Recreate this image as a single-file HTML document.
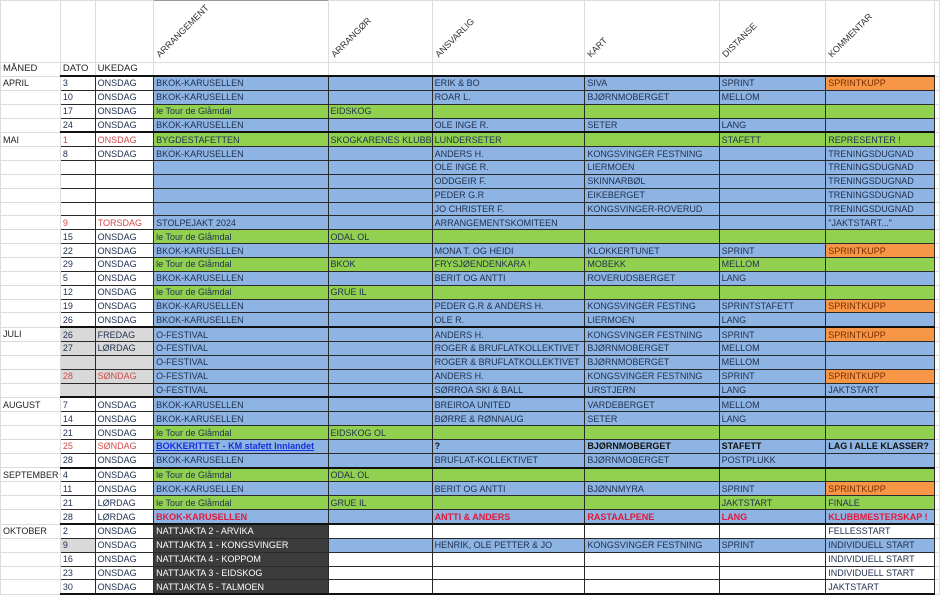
<!DOCTYPE html>
<html><head><meta charset="utf-8">
<style>
html,body{margin:0;padding:0;background:#fff;width:940px;height:598px;overflow:hidden}
table{border-collapse:collapse;table-layout:fixed;font-family:"Liberation Sans",Arial,sans-serif;font-size:9px;color:#1f2f4f;position:absolute;left:0;top:0}
td{border:1px solid #dcdcdc;padding:0 0 0 2px;height:12.85px;line-height:12px;white-space:nowrap;overflow:hidden;vertical-align:middle}
tr.h td{height:61px;vertical-align:bottom;position:relative;overflow:visible}
tr.l td{height:12px;font-size:9.5px;color:#222}
tr.d td:nth-child(n+2):nth-child(-n+9){border:1px solid #2a2a2a}
tr.d td:nth-child(2){border-left:2px solid #111}
tr.d td:nth-child(9){border-right:2px solid #111}
tr.t td:nth-child(n+2):nth-child(-n+9){border-top:2px solid #111}
tr.last td:nth-child(n+2):nth-child(-n+9){border-bottom:2px solid #111}
td.a{color:#222}
.b{background:#8db4e2}
.g{background:#92d050}
.o{background:#f79646;color:#7a2e00}
.k{background:#3c3c3c;color:#fff}
.gr{background:#d9d9d9}
.rd{color:#d24a4a}
.rb{color:#e0183a;font-weight:bold}
.bl{color:#1530e0;font-weight:bold;text-decoration:underline}
.bo{font-weight:bold;color:#111}
.rot{position:absolute;left:8px;bottom:2px;transform:rotate(-45deg);transform-origin:left bottom;font-size:9px;color:#333;white-space:nowrap}
</style></head><body>
<table>
<colgroup><col style="width:60px"><col style="width:35px"><col style="width:59px"><col style="width:175px"><col style="width:101px"><col style="width:153px"><col style="width:135px"><col style="width:108px"><col style="width:109px"><col style="width:5px"></colgroup>
<tr class="h"><td></td><td></td><td></td><td style="border-top:1px solid #999"><span class="rot">ARRANGEMENT</span></td><td><span class="rot">ARRANGØR</span></td><td><span class="rot">ANSVARLIG</span></td><td><span class="rot">KART</span></td><td><span class="rot">DISTANSE</span></td><td><span class="rot">KOMMENTAR</span></td><td></td></tr>
<tr class="l"><td>MÅNED</td><td>DATO</td><td>UKEDAG</td><td></td><td></td><td></td><td></td><td></td><td></td><td></td></tr>
<tr class="d t"><td class="a">APRIL</td><td>3</td><td>ONSDAG</td><td class="b">BKOK-KARUSELLEN</td><td class="b"></td><td class="b">ERIK &amp; BO</td><td class="b">SIVA</td><td class="b">SPRINT</td><td class="o">SPRINTKUPP</td><td></td></tr>
<tr class="d"><td></td><td>10</td><td>ONSDAG</td><td class="b">BKOK-KARUSELLEN</td><td class="b"></td><td class="b">ROAR L.</td><td class="b">BJØRNMOBERGET</td><td class="b">MELLOM</td><td class="b"></td><td></td></tr>
<tr class="d"><td></td><td>17</td><td>ONSDAG</td><td class="g">le Tour de Glåmdal</td><td class="g">EIDSKOG</td><td class="g"></td><td class="g"></td><td class="g"></td><td class="g"></td><td></td></tr>
<tr class="d"><td></td><td>24</td><td>ONSDAG</td><td class="b">BKOK-KARUSELLEN</td><td class="b"></td><td class="b">OLE INGE R.</td><td class="b">SETER</td><td class="b">LANG</td><td class="b"></td><td></td></tr>
<tr class="d t"><td class="a">MAI</td><td class="rd">1</td><td class="rd">ONSDAG</td><td class="g">BYGDESTAFETTEN</td><td class="g">SKOGKARENES KLUBB</td><td class="g">LUNDERSETER</td><td class="g"></td><td class="g">STAFETT</td><td class="g">REPRESENTER !</td><td></td></tr>
<tr class="d"><td></td><td>8</td><td>ONSDAG</td><td class="b">BKOK-KARUSELLEN</td><td class="b"></td><td class="b">ANDERS H.</td><td class="b">KONGSVINGER FESTNING</td><td class="b"></td><td class="b">TRENINGSDUGNAD</td><td></td></tr>
<tr class="d"><td></td><td></td><td></td><td class="b"></td><td class="b"></td><td class="b">OLE INGE R.</td><td class="b">LIERMOEN</td><td class="b"></td><td class="b">TRENINGSDUGNAD</td><td></td></tr>
<tr class="d"><td></td><td></td><td></td><td class="b"></td><td class="b"></td><td class="b">ODDGEIR F.</td><td class="b">SKINNARBØL</td><td class="b"></td><td class="b">TRENINGSDUGNAD</td><td></td></tr>
<tr class="d"><td></td><td></td><td></td><td class="b"></td><td class="b"></td><td class="b">PEDER G.R</td><td class="b">EIKEBERGET</td><td class="b"></td><td class="b">TRENINGSDUGNAD</td><td></td></tr>
<tr class="d"><td></td><td></td><td></td><td class="b"></td><td class="b"></td><td class="b">JO CHRISTER F.</td><td class="b">KONGSVINGER-ROVERUD</td><td class="b"></td><td class="b">TRENINGSDUGNAD</td><td></td></tr>
<tr class="d"><td></td><td class="rd">9</td><td class="rd">TORSDAG</td><td class="b">STOLPEJAKT 2024</td><td class="b"></td><td class="b">ARRANGEMENTSKOMITEEN</td><td class="b"></td><td class="b"></td><td class="b">"JAKTSTART..."</td><td></td></tr>
<tr class="d"><td></td><td>15</td><td>ONSDAG</td><td class="g">le Tour de Glåmdal</td><td class="g">ODAL OL</td><td class="g"></td><td class="g"></td><td class="g"></td><td class="g"></td><td></td></tr>
<tr class="d"><td></td><td>22</td><td>ONSDAG</td><td class="b">BKOK-KARUSELLEN</td><td class="b"></td><td class="b">MONA T. OG HEIDI</td><td class="b">KLOKKERTUNET</td><td class="b">SPRINT</td><td class="o">SPRINTKUPP</td><td></td></tr>
<tr class="d"><td></td><td>29</td><td>ONSDAG</td><td class="g">le Tour de Glåmdal</td><td class="g">BKOK</td><td class="g">FRYSJØENDENKARA !</td><td class="g">MOBEKK</td><td class="g">MELLOM</td><td class="g"></td><td></td></tr>
<tr class="d"><td></td><td>5</td><td>ONSDAG</td><td class="b">BKOK-KARUSELLEN</td><td class="b"></td><td class="b">BERIT OG ANTTI</td><td class="b">ROVERUDSBERGET</td><td class="b">LANG</td><td class="b"></td><td></td></tr>
<tr class="d"><td></td><td>12</td><td>ONSDAG</td><td class="g">le Tour de Glåmdal</td><td class="g">GRUE IL</td><td class="g"></td><td class="g"></td><td class="g"></td><td class="g"></td><td></td></tr>
<tr class="d"><td></td><td>19</td><td>ONSDAG</td><td class="b">BKOK-KARUSELLEN</td><td class="b"></td><td class="b">PEDER G.R &amp; ANDERS H.</td><td class="b">KONGSVINGER FESTING</td><td class="b">SPRINTSTAFETT</td><td class="o">SPRINTKUPP</td><td></td></tr>
<tr class="d"><td></td><td>26</td><td>ONSDAG</td><td class="b">BKOK-KARUSELLEN</td><td class="b"></td><td class="b">OLE R.</td><td class="b">LIERMOEN</td><td class="b">LANG</td><td class="b"></td><td></td></tr>
<tr class="d t"><td class="a">JULI</td><td class="gr">26</td><td class="gr">FREDAG</td><td class="b">O-FESTIVAL</td><td class="b"></td><td class="b">ANDERS H.</td><td class="b">KONGSVINGER FESTNING</td><td class="b">SPRINT</td><td class="o">SPRINTKUPP</td><td></td></tr>
<tr class="d"><td></td><td class="gr">27</td><td class="gr">LØRDAG</td><td class="b">O-FESTIVAL</td><td class="b"></td><td class="b">ROGER &amp; BRUFLATKOLLEKTIVET</td><td class="b">BJØRNMOBERGET</td><td class="b">MELLOM</td><td class="b"></td><td></td></tr>
<tr class="d"><td></td><td class="gr"></td><td class="gr"></td><td class="b">O-FESTIVAL</td><td class="b"></td><td class="b">ROGER &amp; BRUFLATKOLLEKTIVET</td><td class="b">BJØRNMOBERGET</td><td class="b">MELLOM</td><td class="b"></td><td></td></tr>
<tr class="d"><td></td><td class="gr rd">28</td><td class="gr rd">SØNDAG</td><td class="b">O-FESTIVAL</td><td class="b"></td><td class="b">ANDERS H.</td><td class="b">KONGSVINGER FESTNING</td><td class="b">SPRINT</td><td class="o">SPRINTKUPP</td><td></td></tr>
<tr class="d"><td></td><td class="gr"></td><td class="gr"></td><td class="b">O-FESTIVAL</td><td class="b"></td><td class="b">SØRROA SKI &amp; BALL</td><td class="b">URSTJERN</td><td class="b">LANG</td><td class="b">JAKTSTART</td><td></td></tr>
<tr class="d t"><td class="a">AUGUST</td><td>7</td><td>ONSDAG</td><td class="b">BKOK-KARUSELLEN</td><td class="b"></td><td class="b">BREIROA UNITED</td><td class="b">VARDEBERGET</td><td class="b">MELLOM</td><td class="b"></td><td></td></tr>
<tr class="d"><td></td><td>14</td><td>ONSDAG</td><td class="b">BKOK-KARUSELLEN</td><td class="b"></td><td class="b">BØRRE &amp; RØNNAUG</td><td class="b">SETER</td><td class="b">LANG</td><td class="b"></td><td></td></tr>
<tr class="d"><td></td><td>21</td><td>ONSDAG</td><td class="g">le Tour de Glåmdal</td><td class="g">EIDSKOG OL</td><td class="g"></td><td class="g"></td><td class="g"></td><td class="g"></td><td></td></tr>
<tr class="d"><td></td><td class="rd">25</td><td class="rd">SØNDAG</td><td class="b bl">BOKKERITTET - KM stafett Innlandet</td><td class="b"></td><td class="b bo">?</td><td class="b bo">BJØRNMOBERGET</td><td class="b bo">STAFETT</td><td class="b bo">LAG I ALLE KLASSER?</td><td></td></tr>
<tr class="d"><td></td><td>28</td><td>ONSDAG</td><td class="b">BKOK-KARUSELLEN</td><td class="b"></td><td class="b">BRUFLAT-KOLLEKTIVET</td><td class="b">BJØRNMOBERGET</td><td class="b">POSTPLUKK</td><td class="b"></td><td></td></tr>
<tr class="d t"><td class="a">SEPTEMBER</td><td>4</td><td>ONSDAG</td><td class="g">le Tour de Glåmdal</td><td class="g">ODAL OL</td><td class="g"></td><td class="g"></td><td class="g"></td><td class="g"></td><td></td></tr>
<tr class="d"><td></td><td>11</td><td>ONSDAG</td><td class="b">BKOK-KARUSELLEN</td><td class="b"></td><td class="b">BERIT OG ANTTI</td><td class="b">BJØNNMYRA</td><td class="b">SPRINT</td><td class="o">SPRINTKUPP</td><td></td></tr>
<tr class="d"><td></td><td>21</td><td>LØRDAG</td><td class="g">le Tour de Glåmdal</td><td class="g">GRUE IL</td><td class="g"></td><td class="g"></td><td class="g">JAKTSTART</td><td class="g">FINALE</td><td></td></tr>
<tr class="d"><td></td><td>28</td><td>LØRDAG</td><td class="b rb">BKOK-KARUSELLEN</td><td class="b"></td><td class="b rb">ANTTI &amp; ANDERS</td><td class="b rb">RASTAALPENE</td><td class="b rb">LANG</td><td class="b rb">KLUBBMESTERSKAP !</td><td></td></tr>
<tr class="d t"><td class="a">OKTOBER</td><td>2</td><td>ONSDAG</td><td class="k">NATTJAKTA 2 - ARVIKA</td><td></td><td></td><td></td><td></td><td>FELLESSTART</td><td></td></tr>
<tr class="d"><td></td><td class="gr">9</td><td>ONSDAG</td><td class="k">NATTJAKTA 1 - KONGSVINGER</td><td class="b"></td><td class="b">HENRIK, OLE PETTER &amp; JO</td><td class="b">KONGSVINGER FESTNING</td><td class="b">SPRINT</td><td class="b">INDIVIDUELL START</td><td></td></tr>
<tr class="d"><td></td><td>16</td><td>ONSDAG</td><td class="k">NATTJAKTA 4 - KOPPOM</td><td></td><td></td><td></td><td></td><td>INDIVIDUELL START</td><td></td></tr>
<tr class="d"><td></td><td>23</td><td>ONSDAG</td><td class="k">NATTJAKTA 3 - EIDSKOG</td><td></td><td></td><td></td><td></td><td>INDIVIDUELL START</td><td></td></tr>
<tr class="d last"><td></td><td>30</td><td>ONSDAG</td><td class="k">NATTJAKTA 5 - TALMOEN</td><td></td><td></td><td></td><td></td><td>JAKTSTART</td><td></td></tr>
</table>
</body></html>
